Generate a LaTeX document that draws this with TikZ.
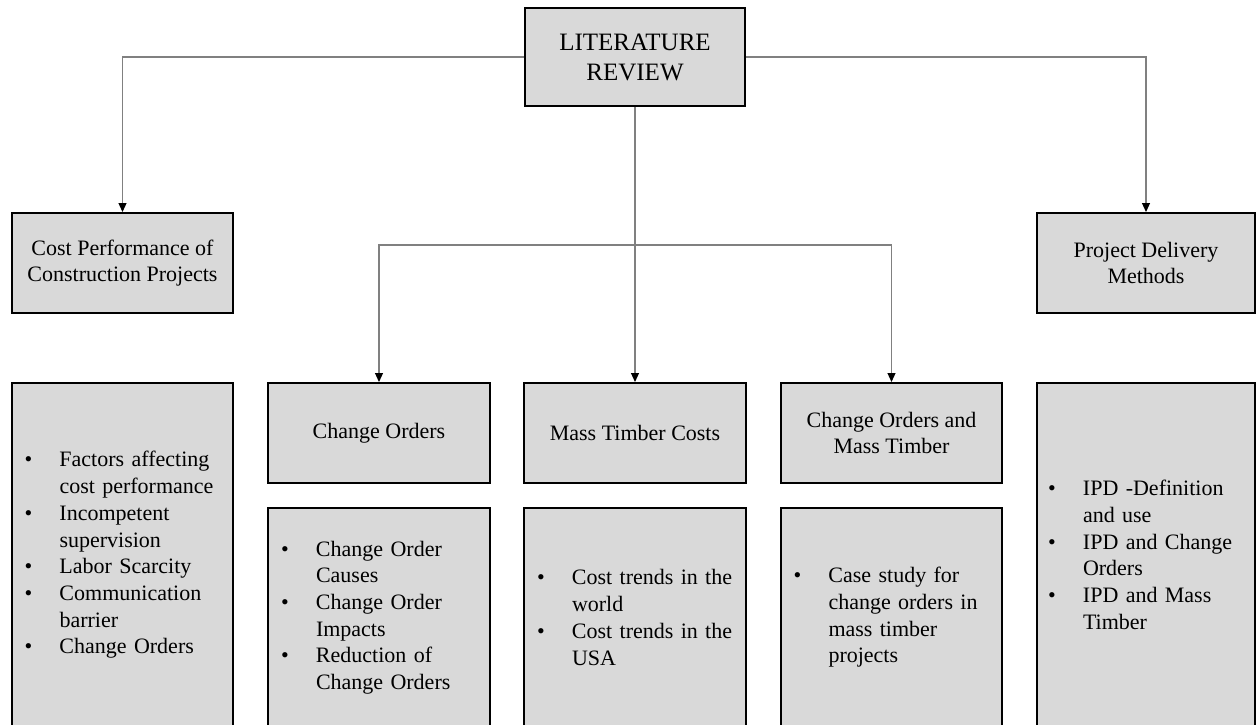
\documentclass[tikz,border=0pt]{standalone}
\usepackage{fontspec}
\setmainfont{Liberation Serif}
\usepackage{tikz}
\usetikzlibrary{arrows.meta, positioning}
\definecolor{boxgray}{RGB}{217,217,217}
\definecolor{linegray}{RGB}{128,128,128}
\newcommand{\litem}[1]{\makebox[35pt][l]{\textbullet}#1}
\newcommand{\lcont}{\hspace*{35pt}}

\begin{document}
\begin{tikzpicture}[x=1pt, y=-1pt,
    box/.style={draw, line width=2pt, fill=boxgray, inner sep=0pt, align=center,
        minimum height=100pt, font=\fontsize{22}{26.7}\selectfont},
    listbox/.style={box, align=left, text width=196pt},
    conn/.style={draw=linegray, line width=1.2pt, -{Triangle[width=8pt, length=9pt, color=black]}}]
    \useasboundingbox (0,0) rectangle (1256,725);
    \clip (0,0) rectangle (1256,725);

    % Top
    \node[box, minimum width=220pt, minimum height=98pt, font=\fontsize{25}{30}\selectfont] (lit) at (635,57) {LITERATURE\\REVIEW};

    % Second level
    \node[box, minimum width=221pt] (cost) at (122.5,263) {Cost Performance of\\Construction Projects};
    \node[box, minimum width=218pt] (pdm) at (1146,263) {Project Delivery\\Methods};
    \node[box, minimum width=222pt] (co) at (379,433) {Change Orders};
    \node[box, minimum width=222pt] (mtc) at (635,433) {Mass Timber Costs};
    \node[box, minimum width=221pt] (comt) at (891.5,433) {Change Orders and\\Mass Timber};

    % Lists
    \node[listbox, minimum width=221pt, minimum height=344pt] (costlist) at (122.5,555)
        {\litem{Factors affecting}\\ \lcont cost performance\\ \litem{Incompetent}\\ \lcont supervision\\
         \litem{Labor Scarcity}\\ \litem{Communication}\\ \lcont barrier\\ \litem{Change Orders}};
    \node[listbox, minimum width=222pt, minimum height=219pt] (colist) at (379,617.5)
        {\litem{Change Order}\\ \lcont Causes\\ \litem{Change Order}\\ \lcont Impacts\\
         \litem{Reduction of}\\ \lcont Change Orders};
    \node[listbox, minimum width=222pt, minimum height=219pt] (mtclist) at (635,617.5)
        {\litem{Cost trends in the}\\ \lcont world\\ \litem{Cost trends in the}\\ \lcont USA};
    \node[listbox, minimum width=221pt, minimum height=219pt] (comtlist) at (891.5,617.5)
        {\litem{Case study for}\\ \lcont change orders in\\ \lcont mass timber\\ \lcont projects};
    \node[listbox, minimum width=218pt, minimum height=344pt] (pdmlist) at (1146,555)
        {\litem{IPD -Definition}\\ \lcont and use\\ \litem{IPD and Change}\\ \lcont Orders\\
         \litem{IPD and Mass}\\ \lcont Timber};

    % Connectors
    \draw[conn] (lit.west) -| (cost.north);
    \draw[conn] (lit.east) -| (pdm.north);
    \draw[conn] (lit.south) -- (mtc.north);
    \coordinate (split) at (635,245);
    \draw[conn] (split) -| (co.north);
    \draw[conn] (split) -| (comt.north);
\end{tikzpicture}
\end{document}
